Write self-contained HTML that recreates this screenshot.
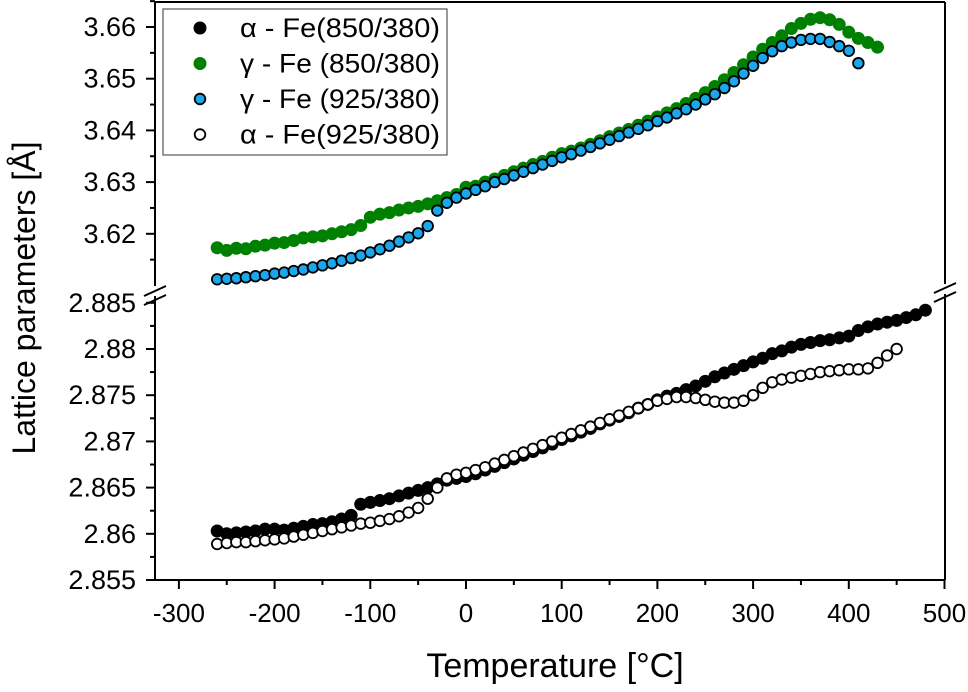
<!DOCTYPE html>
<html><head><meta charset="utf-8"><style>
body{margin:0;background:#fff}
svg{display:block;font-family:"Liberation Sans",Arial,sans-serif}
</style></head><body>
<svg id="chart" width="968" height="692">
<g id="axes"></g>
<g id="marks"></g>
<g id="legend"></g>
</svg>
<script>
const temps = [];
for (let t = -260; t <= 480; t += 10) temps.push(t);
const gamma850 = [3.6173,3.6168,3.6172,3.6171,3.6176,3.6178,3.6182,3.6183,3.6187,3.6192,3.6194,3.6196,3.6200,3.6204,3.6208,3.6216,3.6232,3.6238,3.6241,3.6246,3.6250,3.6253,3.6258,3.6264,3.6270,3.6276,3.6290,3.6292,3.6300,3.6306,3.6313,3.6320,3.6327,3.6334,3.6340,3.6348,3.6355,3.6360,3.6366,3.6373,3.6380,3.6388,3.6395,3.6402,3.6410,3.6418,3.6426,3.6434,3.6442,3.6452,3.6462,3.6473,3.6485,3.6498,3.6512,3.6527,3.6542,3.6557,3.6570,3.6583,3.6597,3.6607,3.6615,3.6618,3.6614,3.6605,3.6590,3.6578,3.6570,3.6561];
const gamma925 = [3.6112,3.6113,3.6114,3.6116,3.6118,3.6120,3.6123,3.6125,3.6128,3.6131,3.6135,3.6139,3.6143,3.6148,3.6153,3.6158,3.6164,3.6170,3.6177,3.6185,3.6193,3.6201,3.6215,3.6245,3.6260,3.6270,3.6278,3.6285,3.6292,3.6300,3.6306,3.6313,3.6320,3.6327,3.6334,3.6341,3.6348,3.6354,3.6361,3.6368,3.6375,3.6382,3.6389,3.6396,3.6403,3.6410,3.6418,3.6425,3.6433,3.6441,3.6450,3.6460,3.6470,3.6482,3.6495,3.6510,3.6525,3.6540,3.6553,3.6563,3.6570,3.6575,3.6577,3.6577,3.6571,3.6563,3.6554,3.6530];
const alpha850 = [2.8603,2.8600,2.8601,2.8602,2.8603,2.8605,2.8605,2.8604,2.8606,2.8608,2.8610,2.8611,2.8613,2.8616,2.8620,2.8632,2.8634,2.8636,2.8638,2.8641,2.8644,2.8647,2.8650,2.8654,2.8658,2.8660,2.8662,2.8665,2.8669,2.8673,2.8677,2.8681,2.8685,2.8689,2.8693,2.8697,2.8702,2.8706,2.8710,2.8714,2.8719,2.8723,2.8727,2.8731,2.8736,2.8740,2.8745,2.8749,2.8752,2.8756,2.8760,2.8765,2.8770,2.8774,2.8778,2.8782,2.8786,2.8790,2.8795,2.8798,2.8802,2.8805,2.8807,2.8809,2.8810,2.8812,2.8814,2.8820,2.8824,2.8827,2.8829,2.8831,2.8834,2.8837,2.8842];
const alpha925 = [2.8589,2.8590,2.8591,2.8591,2.8592,2.8593,2.8594,2.8595,2.8597,2.8599,2.8601,2.8603,2.8605,2.8607,2.8609,2.8611,2.8612,2.8614,2.8616,2.8619,2.8623,2.8628,2.8638,2.8650,2.8660,2.8664,2.8666,2.8669,2.8672,2.8676,2.8680,2.8684,2.8688,2.8692,2.8696,2.8700,2.8704,2.8708,2.8712,2.8716,2.8720,2.8724,2.8728,2.8732,2.8736,2.8740,2.8744,2.8746,2.8748,2.8748,2.8747,2.8745,2.8743,2.8742,2.8742,2.8744,2.8750,2.8758,2.8764,2.8767,2.8769,2.8771,2.8773,2.8775,2.8776,2.8777,2.8778,2.8778,2.8779,2.8785,2.8793,2.8800];
const xTicks = [-300,-200,-100,0,100,200,300,400,500];
const yTicksUpper = [3.62,3.63,3.64,3.65,3.66];
const yTicksLower = [2.855,2.86,2.865,2.87,2.875,2.88,2.885];
const yLabelsUpper = ["3.62","3.63","3.64","3.65","3.66"];
const yLabelsLower = ["2.855","2.86","2.865","2.87","2.875","2.88","2.885"];

const NS = "http://www.w3.org/2000/svg";
const L = 155, R = 945, T = 2, B = 580;
const x = v => 466 + v * 0.957;
const yU = v => 27 + (3.66 - v) * 5170;
const yL = v => 580 - (v - 2.855) * 9240;
function mk(tag, attrs, parent) {
  const e = document.createElementNS(NS, tag);
  for (const k in attrs) e.setAttribute(k, attrs[k]);
  parent.appendChild(e); return e;
}
const axes = document.getElementById('axes');
const marks = document.getElementById('marks');
const legend = document.getElementById('legend');
const ln = {stroke:'#000','stroke-width':2};

let e;
e = mk('line', {x1:L,y1:T,x2:R,y2:T,...ln}, axes);
 
e = mk('line', {x1:L,y1:B,x2:R,y2:B,...ln}, axes);
 
e = mk('line', {x1:L,y1:T,x2:L,y2:286,...ln}, axes);
 
e = mk('line', {x1:L,y1:296,x2:L,y2:B,...ln}, axes);
 
e = mk('line', {x1:R,y1:T,x2:R,y2:284,...ln}, axes);
 
e = mk('line', {x1:R,y1:294,x2:R,y2:B,...ln}, axes);
 
[[L,291],[L,300],[R,288],[R,297]].forEach(p => {
  const b = mk('line', {x1:p[0]-11,y1:p[1]+5,x2:p[0]+11,y2:p[1]-5,...ln}, axes);
  
  
});
xTicks.forEach(v => {
  const t = mk('line', {x1:x(v),y1:B,x2:x(v),y2:B+9,...ln}, axes);
  
  
  const m = mk('line', {x1:x(v+50),y1:B,x2:x(v+50),y2:B+5,...ln}, axes);
  
  
  const s = mk('text', {x:x(v),y:622,'font-size':26,'text-anchor':'middle'}, axes);
  s.textContent = String(v);
  
  
});
yTicksUpper.forEach((v,i) => {
  const t = mk('line', {x1:L-9,y1:yU(v),x2:L,y2:yU(v),...ln}, axes);
  
  
  const mv = v - 0.005;
  if (yU(mv) < 284) {
    const m = mk('line', {x1:L-5,y1:yU(mv),x2:L,y2:yU(mv),...ln}, axes);
    
    
  }
  const s = mk('text', {x:136,y:yU(v)+9,'font-size':27,'text-anchor':'end'}, axes);
  s.textContent = yLabelsUpper[i];
  
  
});
{
  const m = mk('line', {x1:L-5,y1:yU(3.665),x2:L,y2:yU(3.665),...ln}, axes);
   
}
yTicksLower.forEach((v,i) => {
  const t = mk('line', {x1:L-9,y1:yL(v),x2:L,y2:yL(v),...ln}, axes);
  
  
  if (i < yTicksLower.length - 1) {
    const m = mk('line', {x1:L-5,y1:yL(v+0.0025),x2:L,y2:yL(v+0.0025),...ln}, axes);
    
    
  }
  const s = mk('text', {x:136,y:yL(v)+9,'font-size':27,'text-anchor':'end'}, axes);
  s.textContent = yLabelsLower[i];
  
  
});
e = mk('text', {x:555,y:677,'font-size':34,'text-anchor':'middle'}, axes);
e.textContent = 'Temperature [°C]';
 
e = mk('text', {x:0,y:0,'font-size':32,'text-anchor':'middle',transform:'translate(35,298) rotate(-90)'}, axes);
e.textContent = 'Lattice parameters [Å]';
 

const series = [
  {vals:gamma850, sy:yU, fill:'#008000', stroke:'#008000', r:6.5, sw:0, name:'gamma-fe-850'},
  {vals:alpha850, sy:yL, fill:'#000', stroke:'#000', r:6.5, sw:0, name:'alpha-fe-850'},
  {vals:gamma925, sy:yU, fill:'#1aa7ec', stroke:'#000', r:5.3, sw:1.8, name:'gamma-fe-925'},
  {vals:alpha925, sy:yL, fill:'#fff', stroke:'#000', r:5.3, sw:1.8, name:'alpha-fe-925'}
];
series.forEach(s => {
  const g = mk('g', {}, marks);
  
  
  s.vals.forEach((v,i) => {
    const c = mk('circle', {cx:x(temps[i]),cy:s.sy(v),r:s.r,fill:s.fill,stroke:s.stroke,'stroke-width':s.sw}, g);
    
    
  });
});

e = mk('rect', {x:163,y:9,width:284,height:146,fill:'#fff',stroke:'#555','stroke-width':1.2}, legend);
 
const legItems = [
  ['α - Fe(850/380)','#000','#000',6.5,0],
  ['γ - Fe (850/380)','#008000','#008000',6.5,0],
  ['γ - Fe (925/380)','#1aa7ec','#000',5.3,1.8],
  ['α - Fe(925/380)','#fff','#000',5.3,1.8]
];
legItems.forEach((it,i) => {
  const cy = 28 + i*35.5;
  const c = mk('circle', {cx:200,cy:cy,r:it[3],fill:it[1],stroke:it[2],'stroke-width':it[4]}, legend);
  
  
  const t = mk('text', {x:240,y:cy+9,'font-size':27,textLength:200,lengthAdjust:'spacingAndGlyphs'}, legend);
  t.textContent = it[0];
  
  
});
</script>
</body></html>
